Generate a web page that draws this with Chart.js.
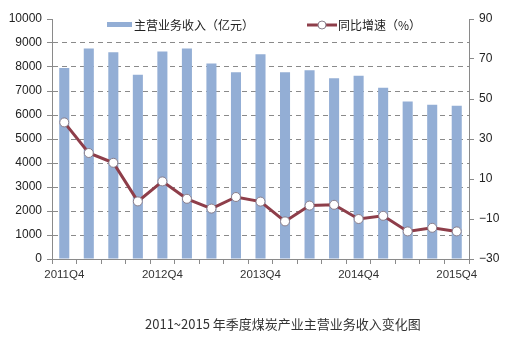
<!DOCTYPE html>
<html>
<head>
<meta charset="utf-8">
<script src="https://cdn.jsdelivr.net/npm/chart.js@4/dist/chart.umd.min.js"></script>
<style>
    body { margin: 0; background: #fff; }
    #wrap { position: relative; width: 527px; height: 342px; }
    .legend { position: absolute; top: 14px; font: 12px "Noto Sans CJK SC", sans-serif; color: #222; white-space: nowrap; }
    .legend span { display: inline-block; vertical-align: middle; }
    .swatch-bar { width: 25px; height: 5px; background: #93aed5; margin-right: 2px; }
    .caption { position: absolute; left: 145px; top: 314px; font: 13px "Noto Sans CJK SC", sans-serif; color: #333; white-space: nowrap; }
</style>
</head>
<body>
<div id="wrap">
    <canvas id="chart" width="527" height="342"></canvas>
    <div class="legend" style="left:107px"><span class="swatch-bar"></span><span>主营业务收入（亿元）</span></div>
    <div class="legend" style="left:307px"><canvas id="lineSwatch" width="30" height="12" style="vertical-align:middle;margin-right:1px"></canvas><span>同比增速（%）</span></div>
    <div class="caption">2011~2015 年季度煤炭产业主营业务收入变化图</div>
</div>
<script>
// DATA
const quarters = ["2011Q4", "2012Q1", "2012Q2", "2012Q3", "2012Q4", "2013Q1", "2013Q2", "2013Q3", "2013Q4",
    "2014Q1", "2014Q2", "2014Q3", "2014Q4", "2015Q1", "2015Q2", "2015Q3", "2015Q4"];
const revenue = [7960, 8770, 8610, 7680, 8650, 8770, 8150, 7780, 8530, 7780, 7860, 7530, 7640, 7140, 6560, 6430, 6390];
const growth = [38.3, 23, 18.1, -1.2, 8.8, 0.1, -4.8, 1, -1.3, -11.2, -3.3, -2.9, -10, -8.4, -16.2, -14.4, -16.2];
const leftTicks = [0, 10000, 1000];
const rightTicks = [-30, 90, 20];

const barColor = "#93aed5";
const lineColor = "#8e3e4a";
const axisColor = "#8a8a8a";

// legend marker for the line series
const sw = document.getElementById("lineSwatch").getContext("2d");
sw.strokeStyle = lineColor;
sw.lineWidth = 3;
sw.beginPath(); sw.moveTo(0, 6); sw.lineTo(30, 6); sw.stroke();
sw.fillStyle = "#fff";
sw.strokeStyle = "#8a7f8c";
sw.lineWidth = 1;
sw.beginPath(); sw.arc(15, 6, 4, 0, Math.PI * 2); sw.fill(); sw.stroke();

const tickFont = { family: "'Liberation Sans', Arial, sans-serif", size: 12 };

new Chart(document.getElementById("chart"), {
    type: "bar",
    data: {
        labels: quarters,
        datasets: [{
            type: "line",
            label: "同比增速（%）",
            data: growth,
            yAxisID: "y1",
            order: 0,
            borderColor: lineColor,
            borderWidth: 3,
            pointRadius: 4.5,
            pointBackgroundColor: "#fff",
            pointBorderColor: "#8a7f8c",
            pointBorderWidth: 1,
            tension: 0
        }, {
            label: "主营业务收入（亿元）",
            data: revenue,
            yAxisID: "y",
            order: 1,
            backgroundColor: barColor,
            categoryPercentage: 0.82,
            barPercentage: 0.5
        }]
    },
    options: {
        responsive: false,
        animation: false,
        layout: { padding: { top: 19, left: 0, right: 0, bottom: 0 } },
        plugins: { legend: { display: false }, tooltip: { enabled: false } },
        scales: {
            x: {
                grid: { display: true, drawOnChartArea: false, color: axisColor, tickLength: 5, offset: true },
                border: { color: axisColor },
                ticks: {
                    autoSkip: false, maxRotation: 0, padding: 4, color: "#333",
                    font: { family: "'Liberation Sans', Arial, sans-serif", size: 11.5 },
                    callback: (v, i) => i % 4 === 0 ? quarters[i] : ""
                },
                afterFit: s => { s.height = 83; }
            },
            y: {
                position: "left",
                min: leftTicks[0], max: leftTicks[1],
                grid: {
                    color: ctx => (ctx.tick.value === 0 || ctx.tick.value === 10000) ? "rgba(0,0,0,0)" : axisColor,
                    tickColor: axisColor, tickLength: 5
                },
                border: { color: axisColor, dash: [5, 4] },
                ticks: { stepSize: leftTicks[2], padding: 5, color: "#222", font: tickFont, callback: v => String(v) },
                afterFit: s => { s.width = 52; }
            },
            y1: {
                position: "right",
                min: rightTicks[0], max: rightTicks[1],
                grid: { drawOnChartArea: false, color: axisColor, tickLength: 5 },
                border: { color: axisColor },
                ticks: {
                    stepSize: rightTicks[2], padding: 5, color: "#222", font: tickFont,
                    callback: v => v < 0 ? "\u2212" + Math.abs(v) : String(v)
                },
                afterFit: s => { s.width = 58; }
            }
        }
    }
});
</script>
</body>
</html>
